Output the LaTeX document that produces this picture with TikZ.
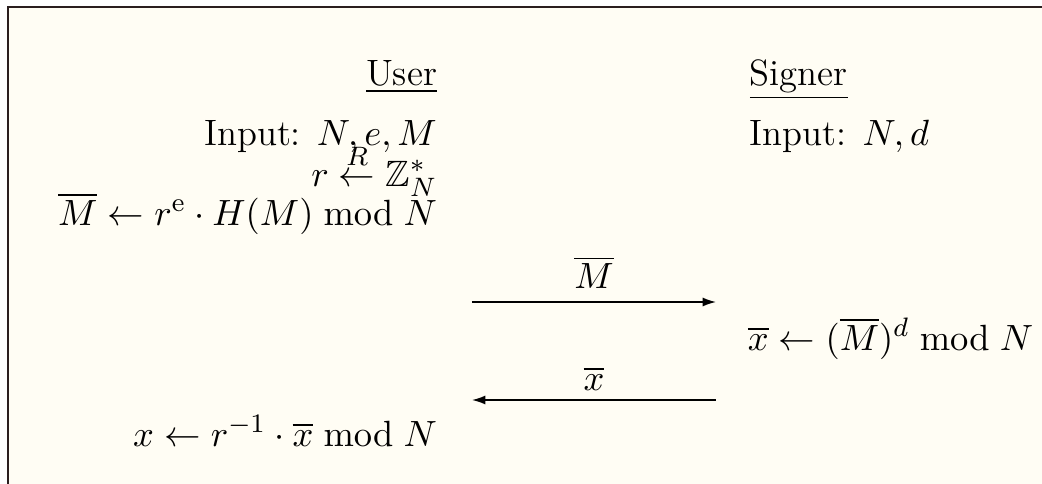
\documentclass[tikz,border=0pt]{standalone}
\usepackage{amsmath,amssymb}
\usetikzlibrary{arrows.meta}
\definecolor{cream}{HTML}{FFFDF4}
\definecolor{framec}{HTML}{2A1E1E}
\begin{document}
\begin{tikzpicture}[x=0.3pt,y=-0.3pt,
  txt/.style={inner sep=0pt, outer sep=0pt, font=\fontsize{11}{13.5}\selectfont},
  msg/.style={line width=0.45pt, -{Latex[length=4pt,width=2.7pt]}},
  frame/.style={framec, line width=0.7pt}]
\useasboundingbox (0,0) rectangle (1042,484);
\fill[white] (0,0) rectangle (1042,484);
\fill[cream] (8,7) rectangle (1042,484);
\draw[frame] (8,484) -- (8,7) -- (1042,7);
% user column
\node[txt, anchor=base east] (user) at (437,85) {\underline{User}};
\node[txt, anchor=base east] (uin) at (437,145) {Input: $N,e,M$};
\node[txt, anchor=base east] (ur) at (437,186) {$r \overset{R}{\leftarrow} \mathbb{Z}_N^*$};
\node[txt, anchor=base east] (um) at (437,225) {$\overline{M} \leftarrow r^{\mathrm{e}}\cdot H(M) \bmod N$};
\node[txt, anchor=base east] (ux) at (437,446) {$x \leftarrow r^{-1}\cdot \overline{x} \bmod N$};
% signer column
\node[txt, anchor=base west] (signer) at (750,85) {\underline{Signer}};
\node[txt, anchor=base west] (sin) at (750,145) {Input: $N,d$};
\node[txt, anchor=base west] (sx) at (748,350) {$\overline{x} \leftarrow (\overline{M})^d \bmod N$};
% messages
\coordinate (a1s) at (472,302);
\coordinate (a1e) at (716,302);
\coordinate (a2s) at (716,400);
\coordinate (a2e) at (472,400);
\draw[msg] (a1s) -- node[txt, above=4pt] (l1) {$\overline{M}$} (a1e);
\draw[msg] (a2s) -- node[txt, above=3pt] (l2) {$\overline{x}$} (a2e);
\end{tikzpicture}
\end{document}
